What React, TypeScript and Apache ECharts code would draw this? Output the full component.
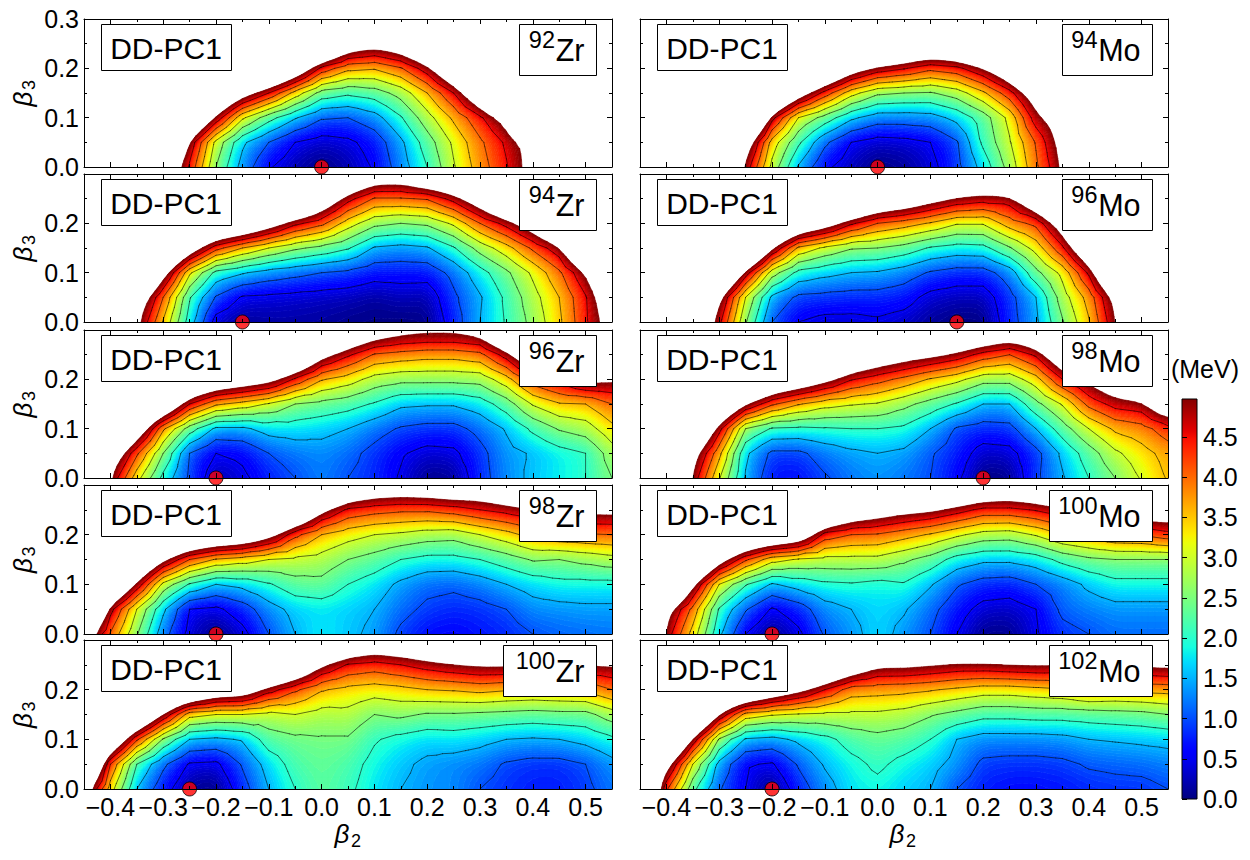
import React, { useEffect, useRef } from "react";
import * as echarts from "echarts";

const BETA2 = [-0.45,-0.4,-0.35,-0.3,-0.25,-0.2,-0.15,-0.1,-0.05,0,0.05,0.1,0.15,0.2,0.25,0.3,0.35,0.4,0.45,0.5,0.55];
const BETA3 = [0,0.05,0.1,0.15,0.2,0.25,0.3];
const X_MAJOR = [-0.4,-0.3,-0.2,-0.1,0,0.1,0.2,0.3,0.4,0.5];
const X_MINOR = [-0.45,-0.35,-0.25,-0.15,-0.05,0.05,0.15,0.25,0.35,0.45,0.55];
const Y_MAJOR = [0,0.1,0.2,0.3];
const Y_MINOR = [0.05,0.15,0.25];
const CONTOUR_LEVELS = [0.5,1,1.5,2,2.5,3,3.5,4,4.5];
const BAR_MAX = 4.97;

const zr92 = [
[8,8,8,6.1,4.4,2.5,1.3,.55,.2,0,.2,.55,1.25,2,2.95,3.75,4.45,5.35,8,8,8],
[8,8,8,8,4.9,2.85,1.6,1,.5,.3,.4,.7,1.4,2.25,3.1,3.9,4.6,5.4,8,8,8],
[8,8,8,8,7,4.9,3.1,2.2,1.55,1.05,1,1.3,1.95,2.8,3.6,4.4,5.3,8,8,8,8],
[8,8,8,8,8,7,5.5,4.5,3.3,2.3,2.1,2.25,2.7,3.5,4.5,6,8,8,8,8,8],
[8,8,8,8,8,8,8,7.5,6.1,4.35,3.65,3.55,3.95,4.8,6.3,8,8,8,8,8,8],
[8,8,8,8,8,8,8,8,8,7.5,5.8,5.4,5.8,6.9,8,8,8,8,8,8,8],
];
const mo94 = [
[8,8,8,7,4.85,2.85,1.45,.6,.25,0,.1,.35,.85,1.7,2.7,3.9,5.05,7.5,8,8,8],
[8,8,8,8,5.6,3.3,2.1,1.1,.5,.3,.35,.5,.95,2.1,2.95,4.05,5.35,8,8,8,8],
[8,8,8,8,8,4.7,3,2.3,1.6,1.25,1.25,1.3,1.65,2.25,3.15,4.8,5.6,8,8,8,8],
[8,8,8,8,8,7.5,5.6,4.3,3.2,2.6,2.5,2.45,2.75,3.4,4.3,5.6,8,8,8,8,8],
[8,8,8,8,8,8,8,7,5.6,4.85,4.55,4.15,4.35,5,6,8,8,8,8,8,8],
[8,8,8,8,8,8,8,8,8,8,7,6.5,6.8,7.5,8,8,8,8,8,8,8],
];
const zr94 = [
[8,7.5,5.2,3.45,1.75,.3,.1,.15,.15,.12,.05,.02,0,.03,.75,1.5,2.05,2.65,3.4,4.4,5.5],
[8,8,5.8,4,2.05,.95,.45,.4,.35,.3,.25,.15,.25,.2,.9,1.45,2.1,2.8,3.5,4.45,5.9],
[8,8,8,5.4,3.1,1.85,1.55,1.3,1.15,1,.9,.7,.7,.7,1.15,1.8,2.4,3.1,3.9,5,7],
[8,8,8,8,5.7,4.2,3.5,3,2.6,2.35,2.05,1.45,1.35,1.45,1.95,2.7,3.3,4.1,4.85,7,8],
[8,8,8,8,8,7,6.5,5.6,4.65,4.15,3.25,2.65,2.5,2.6,3.1,4,4.7,5.6,7,8,8],
[8,8,8,8,8,8,8,8,7.5,6,4.7,3.95,3.95,4.05,4.7,5.7,7,8,8,8,8],
[8,8,8,8,8,8,8,8,8,8,6.8,5.9,5.8,6.5,7,8,8,8,8,8,8],
];
const mo96 = [
[8,8,6.5,4.65,2.55,1,.5,.35,.35,.42,.3,.1,0,0,.8,1.4,2.45,3.45,4.95,7,8],
[8,8,8,5.2,3,1.4,.9,.85,.8,.8,.7,.35,.25,.25,.85,1.5,2.75,3.7,5.25,7,8],
[8,8,8,7.5,4.8,2.75,1.85,1.65,1.5,1.45,1.25,.95,.8,.8,1.25,2.35,3.15,4.6,7,8,8],
[8,8,8,8,8,5.1,3.4,2.9,2.55,2.5,2.3,1.95,1.8,1.85,2.45,3.2,4.4,6.2,8,8,8],
[8,8,8,8,8,8,6.3,5.6,4.6,4,3.75,3.45,3.05,3.05,3.75,4.15,5.5,8,8,8,8],
[8,8,8,8,8,8,8,8,7.5,6.4,6,5.4,4.95,4.75,4.8,6,8,8,8,8,8],
[8,8,8,8,8,8,8,8,8,8,8,8,7,6.7,7,8,8,8,8,8,8],
];
const zr96 = [
[8,5,3.2,1.85,.9,.2,.4,.75,1,1.25,1,.8,.45,.05,.1,.8,1.3,1.6,1.8,2,2.5],
[8,5.9,4.1,2.5,1,.5,.6,1,1.2,1.3,1.15,.85,.55,.35,.4,.85,1.35,1.55,1.8,2,2.75],
[8,8,5.9,3.6,2.25,1.4,1.4,1.7,1.75,1.65,1.5,1.2,.95,.85,.85,1.15,1.55,2.1,2.55,2.75,3.35],
[8,8,8,6.5,4.5,3.6,3.3,2.95,2.5,2.35,2.2,1.95,1.6,1.55,1.55,1.75,2.25,3.05,3.45,3.5,4],
[8,8,8,8,7,6.2,5.8,5.4,4.4,3.55,3.25,2.8,2.65,2.65,2.65,2.7,3.3,4.3,4.75,5.3,5.1],
[8,8,8,8,8,8,8,8,7,5.3,4.6,3.95,3.8,3.7,3.7,3.85,4.75,6.2,6.5,7,7],
[8,8,8,8,8,8,8,8,8,8,6.5,5.8,5.4,5.3,5.3,5.5,7,8,8,8,8],
];
const mo98 = [
[8,8,4.85,3.05,1.45,.7,.65,.95,1.2,1.35,1.2,1,.6,0,.05,.9,1.45,2,2.5,3.05,3.55],
[8,8,5.4,3.65,1.6,.9,.9,1.2,1.4,1.5,1.4,1.05,.75,.3,.35,.85,1.6,2.25,2.9,3.3,3.7],
[8,8,7,4.7,2.5,1.95,1.9,1.95,2,2,1.9,1.5,.95,.8,.85,1.5,2.25,3,3.6,3.8,4.3],
[8,8,8,7,5.1,4.1,3.55,3.2,3.05,2.95,2.65,2.3,1.95,1.5,1.5,2.35,3.05,4.15,4.7,4.85,6],
[8,8,8,8,8,6.5,6,5.3,4.55,4.2,3.85,3.45,3.15,2.7,2.7,3.3,4.5,5.2,6,6.5,8],
[8,8,8,8,8,8,8,8,6.5,5.9,5.5,5.2,4.85,4.3,4,4.6,6,8,8,8,8],
[8,8,8,8,8,8,8,8,8,8,8,8,7,6.5,6,6.5,8,8,8,8,8],
];
const zr98 = [
[5.7,3.95,2.55,1.2,.35,0,.35,1,1.5,1.8,1.6,1.4,.9,.65,.6,.7,.8,1,1.1,1.15,1.2],
[8,4.7,3,1.6,.5,.4,.75,1.3,1.65,1.75,1.65,1.5,1.15,.9,.8,.85,1,1.3,1.35,1.4,1.4],
[8,7,4.9,2.85,1.95,1.5,1.65,1.95,2.3,2.35,2,1.75,1.4,1.15,1.1,1.25,1.5,1.7,1.85,1.85,1.85],
[8,8,7,5.2,4,3.45,3.25,3,2.9,2.8,2.5,2.3,2,1.85,1.85,2,2.25,2.55,2.5,2.65,2.8],
[8,8,8,8,7,6.5,6.2,5.4,4.15,3.5,3.2,3,2.9,2.75,2.7,3,3.3,3.7,3.9,3.95,4],
[8,8,8,8,8,8,8,8,7,5.2,4.4,4.2,4.1,4.1,4.25,4.5,4.7,4.95,5.2,5.2,5.2],
[8,8,8,8,8,8,8,8,8,8,6.5,6,5.9,6,6.2,6,6.5,7,8,8,8],
];
const mo100 = [
[8,4.8,3.3,1.6,.5,.05,.4,1.05,1.35,1.7,1.35,1,.5,.05,.05,.45,.85,1,1.15,1.15,1.15],
[8,5.3,3.85,1.95,1.05,.45,.75,1.3,1.5,1.7,1.55,1.15,.7,.35,.3,.5,1.1,1.25,1.35,1.35,1.35],
[8,8,5.2,3,2.05,1.45,1.7,1.9,1.95,1.85,1.95,1.55,1.05,.8,.75,1,1.25,1.6,1.85,1.85,1.85],
[8,8,8,5.5,4.1,3.2,2.95,2.85,2.85,2.85,2.6,2.3,1.8,1.6,1.6,1.75,2.15,2.4,2.5,2.5,2.5],
[8,8,8,8,7,6.5,6,4.3,4,3.95,3.7,3.45,3.1,2.8,2.75,3.05,3.5,3.7,4,4.05,4.3],
[8,8,8,8,8,8,8,7,6,5.6,5.3,5.1,4.75,4.35,4.35,4.55,4.85,5.2,5.8,5.8,5.8],
[8,8,8,8,8,8,8,8,8,8,8,8,7,6.5,6.2,6.5,7,8,8,8,8],
];
const zr100 = [
[5.65,3.25,1.5,.7,.1,0,.8,1.5,2,2.3,2.1,1.75,1.5,1.35,1.3,1,.85,.75,.75,.9,1.2],
[8,4,2,1.1,.45,.4,1.05,1.7,2.2,2.35,2.2,1.85,1.6,1.4,1.3,1.2,.95,.85,.85,1,1.35],
[8,6.5,4.1,2.45,1.5,1.4,1.55,2.25,2.4,2.45,2.45,2.05,1.85,1.7,1.75,1.65,1.5,1.45,1.5,1.65,1.9],
[8,8,7,5,3.2,3,3,2.85,3,2.8,2.85,2.5,2.6,2.45,2.45,2.4,2.35,2.3,2.35,2.35,2.75],
[8,8,8,8,7,6,5.8,4.75,4.1,3.55,3.35,3.25,3.35,3.5,3.55,3.65,3.55,3.5,3.55,3.6,4],
[8,8,8,8,8,8,8,7.5,6.5,5.1,4.45,4.3,4.5,4.75,4.95,5.1,5.1,4.95,5,5,5.05],
[8,8,8,8,8,8,8,8,8,7.5,6.5,6,6.2,6.5,7,7,7,7,7,7,7],
];
const mo102 = [
[8,4.1,2.15,1.05,.5,0,.75,1.3,1.75,1.85,1.65,1.5,1,.75,.65,.65,.7,.8,.85,.85,1],
[8,5.4,3,1.35,.55,.45,1.05,1.55,1.85,2.1,1.85,1.65,1.35,.9,.85,.85,.9,1.05,1.1,1.15,1.25],
[8,8,4.9,2.45,1.45,1.35,1.6,1.85,2.2,2.35,2.25,2,1.5,1.3,1.3,1.3,1.35,1.5,1.55,1.6,1.65],
[8,8,8,5,3.3,3.05,2.95,2.9,2.9,2.9,2.8,2.55,2.35,2.15,2.15,2.2,2.2,2.25,2.3,2.35,2.5],
[8,8,8,8,7,6,5.3,4.5,3.75,3.7,3.65,3.55,3.4,3.25,3.25,3.35,3.45,3.7,3.6,3.65,3.7],
[8,8,8,8,8,8,8,7,6,5.2,5.2,5.05,4.9,4.9,5,5.05,5,5.05,5.05,5.1,5.2],
[8,8,8,8,8,8,8,8,8,7,7,7,7,7,7,7,7,7,7,7,7],
];

const PANELS = [
  { mass: "92", el: "Zr", grid: zr92, minimum: 0, col: 0, row: 0 },
  { mass: "94", el: "Mo", grid: mo94, minimum: 0, col: 1, row: 0 },
  { mass: "94", el: "Zr", grid: zr94, minimum: -0.15, col: 0, row: 1 },
  { mass: "96", el: "Mo", grid: mo96, minimum: 0.15, col: 1, row: 1 },
  { mass: "96", el: "Zr", grid: zr96, minimum: -0.2, col: 0, row: 2 },
  { mass: "98", el: "Mo", grid: mo98, minimum: 0.2, col: 1, row: 2 },
  { mass: "98", el: "Zr", grid: zr98, minimum: -0.2, col: 0, row: 3 },
  { mass: "100", el: "Mo", grid: mo100, minimum: -0.2, col: 1, row: 3 },
  { mass: "100", el: "Zr", grid: zr100, minimum: -0.25, col: 0, row: 4 },
  { mass: "102", el: "Mo", grid: mo102, minimum: -0.2, col: 1, row: 4 },
];

const FONT = '"Liberation Sans", Arial, sans-serif';
const COL_LEFT = [84, 640];
const PLOT_W = 528;
const ROW_TOP = [19, 174, 330, 485, 640];
const ROW_H = [148, 148, 148, 149, 149];

type Seg = [number, number];
const JET_R: Seg[] = [[0,0],[0.35,0],[0.66,1],[0.89,1],[1,0.5]];
const JET_G: Seg[] = [[0,0],[0.125,0],[0.375,1],[0.64,1],[0.91,0],[1,0]];
const JET_B: Seg[] = [[0,0.5],[0.11,1],[0.34,1],[0.65,0],[1,0]];
function ramp(s: Seg[], t: number) {
  for (let i = 1; i < s.length; i++) {
    if (t <= s[i][0]) return s[i-1][1] + (s[i][1]-s[i-1][1]) * (t-s[i-1][0]) / (s[i][0]-s[i-1][0]);
  }
  return s[s.length-1][1];
}
function jet(t: number) {
  const c = (s: Seg[]) => Math.round(255 * ramp(s, Math.max(0, Math.min(1, t))));
  return `rgb(${c(JET_R)},${c(JET_G)},${c(JET_B)})`;
}

const BAND_STEP = 0.05;
const BANDS: number[] = [];
for (let k = 0; k < 100; k++) BANDS.push(k * BAND_STEP);

type Vtx = { x: number; y: number; v: number };
const cell = (m: number[][], j: number, i: number) => (m[j] && m[j][i] !== undefined ? m[j][i] : 8);

// triangles through the read grid: these carry the black contour lines
function buildTris(m: number[][], api: any): Vtx[][] {
  const node = (j: number, i: number): Vtx => {
    const p = api.coord([BETA2[i], BETA3[j]]);
    return { x: p[0], y: p[1], v: cell(m, j, i) };
  };
  const tris: Vtx[][] = [];
  for (let j = 0; j < BETA3.length - 1; j++) {
    for (let i = 0; i < BETA2.length - 1; i++) {
      const a = node(j, i), b = node(j, i+1), c = node(j+1, i+1), d = node(j+1, i);
      if (Math.min(a.v, b.v, c.v, d.v) >= 5) continue;
      const e: Vtx = { x: (a.x+c.x)/2, y: (a.y+c.y)/2, v: (a.v+b.v+c.v+d.v)/4 };
      tris.push([a,b,e],[b,c,e],[c,d,e],[d,a,e]);
    }
  }
  return tris;
}

// finer shading mesh of the same grid, softened so the colour fill has no facets
const SUB = 4;
function buildShade(m: number[][], api: any): Vtx[][] {
  const nx = (BETA2.length - 1) * SUB + 1, ny = (BETA3.length - 1) * SUB + 1;
  let f: number[][] = [];
  for (let q = 0; q < ny; q++) {
    const row: number[] = [];
    const j = Math.min(Math.floor(q / SUB), BETA3.length - 2), s = q / SUB - j;
    for (let p = 0; p < nx; p++) {
      const i = Math.min(Math.floor(p / SUB), BETA2.length - 2), t = p / SUB - i;
      const v = (1-s)*((1-t)*cell(m,j,i)+t*cell(m,j,i+1)) + s*((1-t)*cell(m,j+1,i)+t*cell(m,j+1,i+1));
      row.push(Math.min(v, 6.5));
    }
    f.push(row);
  }
  for (let pass = 0; pass < 2; pass++) {
    const g: number[][] = [];
    for (let q = 0; q < ny; q++) {
      const row: number[] = [];
      for (let p = 0; p < nx; p++) {
        const l = Math.max(p-1,0), r = Math.min(p+1,nx-1);
        row.push((f[q][l] + 2*f[q][p] + f[q][r]) / 4);
      }
      g.push(row);
    }
    const h: number[][] = [];
    for (let q = 0; q < ny; q++) {
      const row: number[] = [];
      const d = Math.max(q-1,0), u = Math.min(q+1,ny-1);
      for (let p = 0; p < nx; p++) row.push((g[d][p] + 2*g[q][p] + g[u][p]) / 4);
      h.push(row);
    }
    f = h;
  }
  const stepX = BETA2[1] - BETA2[0], stepY = BETA3[1] - BETA3[0];
  const nodes: Vtx[][] = [];
  for (let q = 0; q < ny; q++) {
    const row: Vtx[] = [];
    for (let p = 0; p < nx; p++) {
      const c = api.coord([BETA2[0] + p/SUB*stepX, BETA3[0] + q/SUB*stepY]);
      row.push({ x: c[0], y: c[1], v: f[q][p] });
    }
    nodes.push(row);
  }
  const tris: Vtx[][] = [];
  for (let q = 0; q < ny-1; q++) {
    for (let p = 0; p < nx-1; p++) {
      const a = nodes[q][p], b = nodes[q][p+1], c = nodes[q+1][p+1], d = nodes[q+1][p];
      if (Math.min(a.v,b.v,c.v,d.v) >= 5) continue;
      tris.push([a,b,c],[a,c,d]);
    }
  }
  return tris;
}

function clip(poly: Vtx[], level: number, above: boolean): Vtx[] {
  const out: Vtx[] = [];
  const inside = (p: Vtx) => (above ? p.v >= level : p.v <= level);
  for (let i = 0; i < poly.length; i++) {
    const p = poly[i], q = poly[(i+1) % poly.length];
    const pi = inside(p), qi = inside(q);
    if (pi) out.push(p);
    if (pi !== qi) {
      const t = (level - p.v) / (q.v - p.v);
      out.push({ x: p.x + t*(q.x-p.x), y: p.y + t*(q.y-p.y), v: level });
    }
  }
  return out;
}
function bandPath(tris: Vtx[][], lo: number, hi: number) {
  let d = "";
  for (const t of tris) {
    const mn = Math.min(t[0].v, t[1].v, t[2].v), mx = Math.max(t[0].v, t[1].v, t[2].v);
    if (mn > hi || mx < lo) continue;
    const poly = clip(clip(t, lo, true), hi, false);
    if (poly.length < 3) continue;
    d += "M" + poly.map(p => p.x.toFixed(1) + " " + p.y.toFixed(1)).join("L") + "Z";
  }
  return d;
}
function linePath(tris: Vtx[][], level: number) {
  let d = "";
  for (const t of tris) {
    const pts: string[] = [];
    for (let i = 0; i < 3; i++) {
      const p = t[i], q = t[(i+1)%3];
      if ((p.v < level) !== (q.v < level)) {
        const s = (level - p.v) / (q.v - p.v);
        pts.push((p.x + s*(q.x-p.x)).toFixed(1) + " " + (p.y + s*(q.y-p.y)).toFixed(1));
      }
    }
    if (pts.length === 2) d += "M" + pts[0] + "L" + pts[1];
  }
  return d;
}

const fmt = (v: number) => (v < -1e-9 ? "\u2212" + Math.abs(v).toFixed(1) : Math.abs(v).toFixed(1));
const TICK_FONT = 25;

function axisX(g: number, position: string, values: number[], len: number, labels: boolean, line: boolean) {
  return {
    type: "value", gridIndex: g, min: -0.45, max: 0.55, interval: 0.05, position, z: 5,
    axisLine: { show: line, onZero: false, lineStyle: { color: "#000", width: 1 } },
    axisTick: { show: true, inside: true, length: len, customValues: values, lineStyle: { color: "#000", width: 1 } },
    axisLabel: labels
      ? { show: true, customValues: X_MAJOR, formatter: fmt, fontFamily: FONT, fontSize: TICK_FONT, color: "#000", margin: 5, showMinLabel: true, showMaxLabel: true }
      : { show: false },
    splitLine: { show: false },
  };
}
function axisY(g: number, position: string, values: number[], len: number, labelVals: number[] | null, line: boolean) {
  return {
    type: "value", gridIndex: g, min: 0, max: 0.3, interval: 0.05, position, z: 5,
    axisLine: { show: line, onZero: false, lineStyle: { color: "#000", width: 1 } },
    axisTick: { show: true, inside: true, length: len, customValues: values, lineStyle: { color: "#000", width: 1 } },
    axisLabel: labelVals
      ? { show: true, customValues: labelVals, formatter: fmt, fontFamily: FONT, fontSize: TICK_FONT, color: "#000", margin: 5, showMinLabel: true, showMaxLabel: true }
      : { show: false },
    splitLine: { show: false },
  };
}

function buildOption() {
  const grid: any[] = [], xAxis: any[] = [], yAxis: any[] = [], series: any[] = [], elements: any[] = [];
  PANELS.forEach((p, g) => {
    const left = COL_LEFT[p.col], top = ROW_TOP[p.row], h = ROW_H[p.row];
    grid.push({ left, top, width: PLOT_W, height: h, show: false });
    const base = xAxis.length;
    const isBottom = p.row === 4;
    xAxis.push(
      axisX(g, "bottom", X_MAJOR, 5, isBottom, true),
      axisX(g, "top", X_MAJOR, 5, false, true),
      axisX(g, "bottom", X_MINOR, 3, false, false),
      axisX(g, "top", X_MINOR, 3, false, false),
    );
    const yLabels = p.col === 0 ? (p.row === 0 ? Y_MAJOR : Y_MAJOR.slice(0, 3)) : null;
    yAxis.push(
      axisY(g, "left", Y_MAJOR, 5, yLabels, true),
      axisY(g, "right", Y_MAJOR, 5, null, true),
      axisY(g, "left", Y_MINOR, 3, null, false),
      axisY(g, "right", Y_MINOR, 3, null, false),
    );
    let tris: Vtx[][] | null = null;
    let shade: Vtx[][] | null = null;
    series.push({
      type: "custom", coordinateSystem: "cartesian2d", xAxisIndex: base, yAxisIndex: base,
      data: BANDS.map(b => [b]), silent: true, z: 1, progressive: 0,
      renderItem: (params: any, api: any) => {
        const lo = BANDS[params.dataIndex];
        if (!shade) shade = buildShade(p.grid, api);
        const d = bandPath(shade, lo, lo + BAND_STEP);
        if (!d) return null;
        const col = jet((lo + BAND_STEP/2) / 5);
        return { type: "path", shape: { pathData: d }, style: { fill: col, stroke: col, lineWidth: 0.6 } };
      },
    });
    series.push({
      type: "custom", coordinateSystem: "cartesian2d", xAxisIndex: base, yAxisIndex: base,
      data: CONTOUR_LEVELS.map(l => [l]), silent: true, z: 2, progressive: 0,
      renderItem: (params: any, api: any) => {
        if (!tris) tris = buildTris(p.grid, api);
        const d = linePath(tris, CONTOUR_LEVELS[params.dataIndex]);
        if (!d) return null;
        return { type: "path", shape: { pathData: d }, style: { fill: "none", stroke: "rgba(0,0,0,0.8)", lineWidth: 0.7, lineCap: "round" } };
      },
    });
    series.push({
      type: "scatter", xAxisIndex: base, yAxisIndex: base, data: [[p.minimum, 0]], symbol: "circle", symbolSize: 14,
      itemStyle: { color: "#ff0000", borderColor: "#000", borderWidth: 1 }, clip: false, silent: true, z: 3,
    });

    // Label boxes
    const ddLeft = left + 17;
    const boxTop = top + 5;
    elements.push({ type: "rect", z: 20, shape: { x: ddLeft + 0.5, y: boxTop + 0.5, width: 130, height: 46 }, style: { fill: "#fff", stroke: "#000", lineWidth: 1 } });
    elements.push({ type: "text", z: 21, x: ddLeft + 65, y: top + 29, style: { text: "DD-PC1", fontFamily: FONT, fontSize: 30, fill: "#000", align: "center", verticalAlign: "middle" } });
    const boxRight = left + 512;
    const long = p.mass.length === 3;
    const boxW = p.el === "Zr" ? (long ? 93 : 77) : (long ? 103 : 90);
    elements.push({ type: "rect", z: 20, shape: { x: boxRight - boxW + 0.5, y: boxTop + 0.5, width: boxW, height: 51 }, style: { fill: "#fff", stroke: "#000", lineWidth: 1 } });
    const elW = p.el === "Zr" ? 29.5 : 43;
    const elRight = boxRight - 11.5;
    elements.push({ type: "text", z: 21, x: elRight, y: top + 31, style: { text: p.el, fontFamily: FONT, fontSize: 30.5, fill: "#000", align: "right", verticalAlign: "middle" } });
    elements.push({ type: "text", z: 21, x: elRight - elW, y: top + 21, style: { text: p.mass, fontFamily: FONT, fontSize: 23.5, fill: "#000", align: "right", verticalAlign: "middle" } });

    // Axis titles
    if (p.col === 0) {
      const cy = top + h / 2 - 1;
      elements.push({ type: "text", z: 21, x: 23, y: cy + 7, rotation: Math.PI / 2, style: { text: "\u03b2", fontFamily: FONT, fontStyle: "italic", fontSize: 26, fill: "#000", align: "center", verticalAlign: "middle" } });
      elements.push({ type: "text", z: 21, x: 29, y: cy - 7, rotation: Math.PI / 2, style: { text: "3", fontFamily: FONT, fontSize: 18, fill: "#000", align: "center", verticalAlign: "middle" } });
    }
    if (p.row === 4) {
      const cx = left + (p.col === 0 ? 258 : 257);
      elements.push({ type: "text", z: 21, x: cx, y: 834, style: { text: "\u03b2", fontFamily: FONT, fontStyle: "italic", fontSize: 26, fill: "#000", align: "center", verticalAlign: "middle" } });
      elements.push({ type: "text", z: 21, x: cx + 14, y: 841, style: { text: "2", fontFamily: FONT, fontSize: 18, fill: "#000", align: "center", verticalAlign: "middle" } });
    }
  });

  // Colour bar
  const gBar = PANELS.length;
  grid.push({ left: 1182, top: 399, width: 15, height: 400, show: false });
  const xBar = xAxis.length, yBar = yAxis.length;
  xAxis.push({ type: "value", gridIndex: gBar, min: 0, max: 1, show: false });
  yAxis.push({
    type: "value", gridIndex: gBar, min: 0, max: BAR_MAX, interval: 0.5, position: "right", z: 5,
    axisLine: { show: false }, axisTick: { show: true, inside: false, length: 5, lineStyle: { color: "#000", width: 1 } },
    axisLabel: { show: true, showMaxLabel: false, formatter: (v: number) => v.toFixed(1), fontFamily: FONT, fontSize: TICK_FONT, color: "#000", margin: 6 },
    splitLine: { show: false },
  });
  const stops: any[] = [];
  for (let k = 0; k <= 50; k++) stops.push({ offset: k / 50, color: jet((k / 50) * BAR_MAX / 5) });
  series.push({
    type: "custom", coordinateSystem: "cartesian2d", xAxisIndex: xBar, yAxisIndex: yBar,
    data: [[0, 0]], silent: true, z: 1,
    renderItem: (_: any, api: any) => {
      const a = api.coord([0, BAR_MAX]), b = api.coord([1, 0]);
      return {
        type: "rect", shape: { x: a[0], y: a[1], width: b[0]-a[0], height: b[1]-a[1] },
        style: { fill: new echarts.graphic.LinearGradient(0, 1, 0, 0, stops), stroke: "#000", lineWidth: 1 },
      };
    },
  });
  elements.push({ type: "text", z: 21, x: 1205, y: 369, style: { text: "(MeV)", fontFamily: FONT, fontSize: 25, fill: "#000", align: "center", verticalAlign: "middle" } });

  return { animation: false, backgroundColor: "#fff", grid, xAxis, yAxis, series, graphic: { elements } };
}

export default function App() {
  const ref = useRef<HTMLDivElement>(null);
  useEffect(() => {
    const chart = echarts.init(ref.current!, undefined, { renderer: "svg" });
    chart.setOption(buildOption() as any);
    return () => chart.dispose();
  }, []);
  return <div ref={ref} style={{ position: "absolute", left: 0, top: 0, width: 1250, height: 860 }} />;
}
